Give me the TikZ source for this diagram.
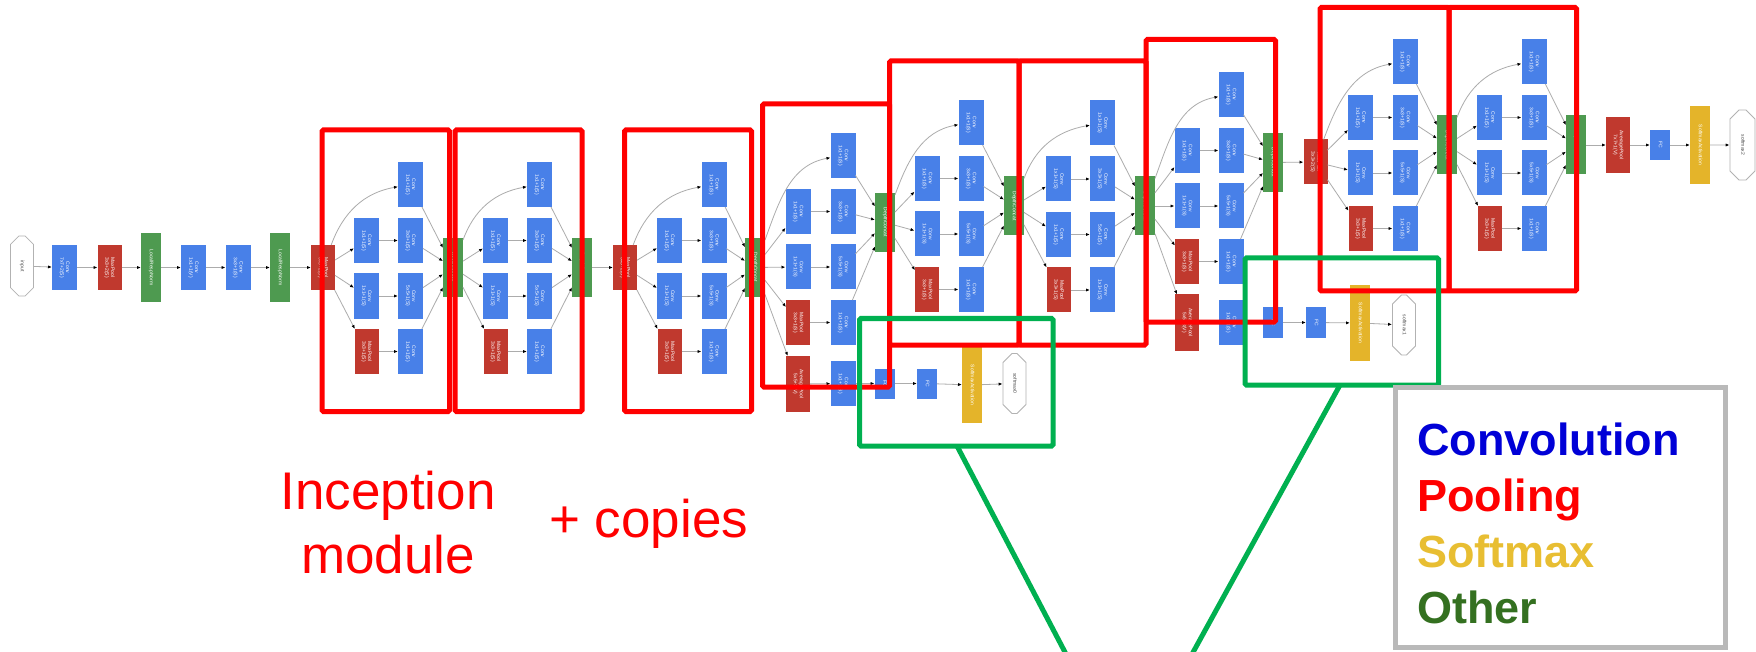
\documentclass[tikz,border=0pt]{standalone}
\usepackage{fontspec}
\setmainfont{Liberation Sans}
\usepackage{graphicx}
\usetikzlibrary{arrows.meta,shapes.misc}
\definecolor{cblue}{RGB}{72,128,232}
\definecolor{pred}{RGB}{192,57,46}
\definecolor{ogreen}{RGB}{78,154,80}
\definecolor{syellow}{RGB}{228,180,42}
\definecolor{hlred}{RGB}{255,0,0}
\definecolor{hlgreen}{RGB}{0,176,80}
\definecolor{lgray}{RGB}{185,185,185}
\definecolor{lblue}{RGB}{0,0,215}
\definecolor{lgold}{RGB}{232,190,50}
\definecolor{ldgreen}{RGB}{52,112,32}
\newcommand\lbl[1]{\rotatebox{-90}{\begin{tabular}{@{}c@{}}#1\end{tabular}}}
\newcommand\incep[7]{%
  \node[convb] (#1t) at (#4,#6) {\lbl{Conv\\1x1+1(S)}};
  \node[convb] (#1a) at (#3,#6+56) {\lbl{Conv\\1x1+1(S)}};
  \node[convb] (#1b) at (#4,#6+56) {\lbl{Conv\\3x3+1(S)}};
  \node[convb] (#1c) at (#3,#6+111.5) {\lbl{Conv\\1x1+1(S)}};
  \node[convb] (#1d) at (#4,#6+111.5) {\lbl{Conv\\5x5+1(S)}};
  \node[poolb] (#1e) at (#3,#6+167) {\lbl{MaxPool\\3x3+1(S)}};
  \node[convb] (#1f) at (#4,#6+167) {\lbl{Conv\\1x1+1(S)}};
  \node[catb] (#1g) at (#5,#7) {\lbl{DepthConcat}};
  \draw[edge] (#2) to[out=70,in=190] (#1t);
  \draw[edge] (#2) -- (#1a);
  \draw[edge] (#2) -- (#1c);
  \draw[edge] (#2) -- (#1e);
  \draw[edge] (#1a) -- (#1b);
  \draw[edge] (#1c) -- (#1d);
  \draw[edge] (#1e) -- (#1f);
  \draw[edge] (#1t) -- (#1g);
  \draw[edge] (#1b) -- (#1g);
  \draw[edge] (#1d) -- (#1g);
  \draw[edge] (#1f) -- (#1g);
}
\begin{document}
\begin{tikzpicture}[x=1pt,y=-1pt,
  blk/.style={inner sep=0pt, outer sep=0pt, text=white, font=\fontsize{5}{5.8}\selectfont},
  convb/.style={blk, fill=cblue, minimum width=25pt, minimum height=45pt},
  poolb/.style={blk, fill=pred, minimum width=24pt, minimum height=45pt},
  avgb/.style={blk, fill=pred, minimum width=24pt, minimum height=56pt},
  lrnb/.style={blk, fill=ogreen, minimum width=20pt, minimum height=69pt},
  catb/.style={blk, fill=ogreen, minimum width=20pt, minimum height=59pt},
  fcb/.style={blk, fill=cblue, minimum width=20pt, minimum height=30pt},
  smb/.style={blk, fill=syellow, minimum width=20pt, minimum height=76pt},
  octb/.style={chamfered rectangle, chamfered rectangle xsep=6pt, chamfered rectangle ysep=14pt,
    draw=gray!60, line width=0.8pt, fill=white, inner sep=0pt, minimum width=23pt,
    minimum height=60pt, text=black!70, font=\fontsize{5}{6}\selectfont},
  edge/.style={draw=gray!65, line width=0.8pt, -{Latex[length=4pt,width=3.2pt,color=black]}},
  hlr/.style={draw=hlred, line width=5pt, rounded corners=1.5pt},
  hlg/.style={draw=hlgreen, line width=5pt, rounded corners=1.5pt},
  lab/.style={text=hlred, font=\fontsize{53}{64}\selectfont, inner sep=0pt},
  leg/.style={anchor=base west, inner sep=0pt, font=\fontsize{45}{56}\selectfont\bfseries}
]
\fill[white] (0,0) rectangle (1756,652);
\useasboundingbox (0,0) rectangle (1756,652);

% stem
\node[octb] (inp) at (22,266) {\lbl{input}};
\node[convb] (conv1) at (64.5,267.5) {\lbl{Conv\\7x7+2(S)}};
\node[poolb] (pool1) at (109.5,267.5) {\lbl{MaxPool\\3x3+2(S)}};
\node[lrnb] (lrn1) at (151,267.5) {\lbl{LocalRespNorm}};
\node[convb] (conv2) at (193.5,267.5) {\lbl{Conv\\1x1+1(V)}};
\node[convb] (conv3) at (238,267.5) {\lbl{Conv\\3x3+1(S)}};
\node[lrnb] (lrn2) at (280,267.5) {\lbl{LocalRespNorm}};
\node[poolb] (pool2) at (323,267.5) {\lbl{MaxPool\\3x3+2(S)}};
\draw[edge] (inp) -- (conv1);
\draw[edge] (conv1) -- (pool1);
\draw[edge] (pool1) -- (lrn1);
\draw[edge] (lrn1) -- (conv2);
\draw[edge] (conv2) -- (conv3);
\draw[edge] (conv3) -- (lrn2);
\draw[edge] (lrn2) -- (pool2);

% inception 3a, 3b
\incep{m3a}{pool2}{366.5}{410.5}{453}{184.5}{267.5}
\incep{m3b}{m3ag}{495.5}{539.5}{582}{184.5}{267.5}
\node[poolb] (pool3) at (625,267.5) {\lbl{MaxPool\\3x3+2(S)}};
\draw[edge] (m3bg) -- (pool3);

% inception 4a-4e
\incep{m4a}{pool3}{669.5}{714}{755}{184.5}{267.5}
\incep{m4b}{m4ag}{798}{843}{885}{155.5}{222.5}
\incep{m4c}{m4bg}{927}{971}{1014}{122.5}{206}
\incep{m4d}{m4cg}{1058.5}{1102.5}{1145}{123}{206}
\incep{m4e}{m4dg}{1187}{1231}{1273}{94.5}{162.5}

% auxiliary classifier 1
\node[avgb] (a1p) at (798,384) {\lbl{AveragePool\\5x5+3(V)}};
\node[convb] (a1c) at (843,383.5) {\lbl{Conv\\1x1+1(S)}};
\node[fcb] (a1f1) at (884.5,383.5) {\lbl{FC}};
\node[fcb] (a1f2) at (927,383.5) {\lbl{FC}};
\node[smb] (a1s) at (972,385) {\lbl{SoftmaxActivation}};
\node[octb] (a1o) at (1014.5,383.5) {\lbl{softmax0}};
\draw[edge] (m4ag) -- (a1p);
\draw[edge] (a1p) -- (a1c);
\draw[edge] (a1c) -- (a1f1);
\draw[edge] (a1f1) -- (a1f2);
\draw[edge] (a1f2) -- (a1s);
\draw[edge] (a1s) -- (a1o);

% auxiliary classifier 2
\node[avgb] (a2p) at (1187,322.5) {\lbl{AveragePool\\5x5+3(V)}};
\node[convb] (a2c) at (1231,322.5) {\lbl{Conv\\1x1+1(S)}};
\node[fcb] (a2f1) at (1273,322.5) {\lbl{FC}};
\node[fcb] (a2f2) at (1316,322.5) {\lbl{FC}};
\node[smb] (a2s) at (1360,323) {\lbl{SoftmaxActivation}};
\node[octb] (a2o) at (1404,325) {\lbl{softmax1}};
\draw[edge] (m4dg) -- (a2p);
\draw[edge] (a2p) -- (a2c);
\draw[edge] (a2c) -- (a2f1);
\draw[edge] (a2f1) -- (a2f2);
\draw[edge] (a2f2) -- (a2s);
\draw[edge] (a2s) -- (a2o);

% inception 5a, 5b
\node[poolb] (pool4) at (1315.5,162) {\lbl{MaxPool\\3x3+2(S)}};
\draw[edge] (m4eg) -- (pool4);
\incep{m5a}{pool4}{1360.5}{1405}{1447}{61.5}{145}
\incep{m5b}{m5ag}{1489.5}{1534}{1576}{61.5}{145}

% head
\node[avgb] (avgf) at (1618,145) {\lbl{AveragePool\\7x7+1(V)}};
\node[fcb] (fcf) at (1660,145) {\lbl{FC}};
\node[smb, minimum height=78pt] (smf) at (1700,145) {\lbl{SoftmaxActivation}};
\node[octb, minimum height=70pt, minimum width=25pt] (out2) at (1742.5,145) {\lbl{softmax2}};
\draw[edge] (m5bg) -- (avgf);
\draw[edge] (avgf) -- (fcf);
\draw[edge] (fcf) -- (smf);
\draw[edge] (smf) -- (out2);

% red highlight boxes (inception modules)
\draw[hlr] (322,130) rectangle (449.5,411.5);
\draw[hlr] (455,130) rectangle (582,411.5);
\draw[hlr] (624.5,130) rectangle (751.5,411.5);
\draw[hlr] (762.5,104) rectangle (889.5,387);
\draw[hlr] (889.5,61) rectangle (1019,345);
\draw[hlr] (1019,61) rectangle (1146,345);
\draw[hlr] (1146,39.5) rectangle (1275.5,322);
\draw[hlr] (1320,7.5) rectangle (1449,291);
\draw[hlr] (1449,7.5) rectangle (1576.5,291);

% green highlight boxes (auxiliary classifiers)
\draw[hlg] (859.5,318.5) rectangle (1053,446);
\draw[hlg] (1245,258) rectangle (1438.5,385);
\coordinate (g1) at (957,446);
\coordinate (g1e) at (1067,656);
\coordinate (g2) at (1340,385);
\coordinate (g2e) at (1191,656);
\draw[draw=hlgreen, line width=5pt] (g1) -- (g1e);
\draw[draw=hlgreen, line width=5pt] (g2) -- (g2e);

% labels
\node[lab, anchor=base] (t1) at (388,509) {Inception};
\node[lab, anchor=base] (t2) at (388,573) {module};
\node[lab, anchor=base west] (t3) at (549,537) {+ copies};

% legend
\draw[draw=lgray, line width=5pt] (1395,387) rectangle (1725,647);
\node[leg, text=lblue] (l1) at (1417,455) {Convolution};
\node[leg, text=hlred] (l2) at (1417,511) {Pooling};
\node[leg, text=lgold] (l3) at (1417,567) {Softmax};
\node[leg, text=ldgreen] (l4) at (1417,623) {Other};
\end{tikzpicture}
\end{document}
